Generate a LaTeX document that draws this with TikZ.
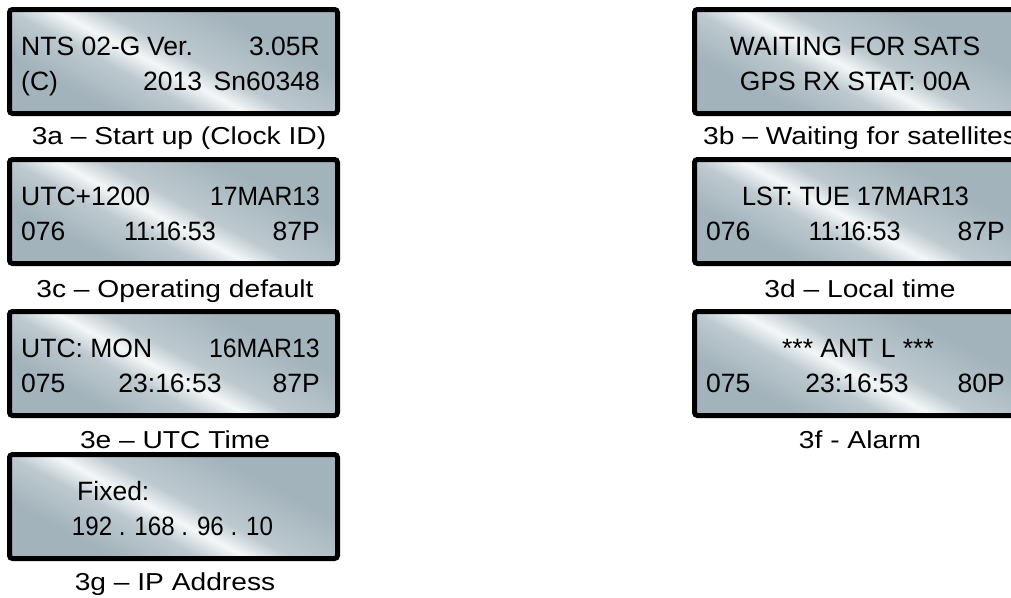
\documentclass[tikz,border=0pt]{standalone}
\usepackage{fontspec}
\setmainfont{Liberation Sans}
\newfontfamily\capfont[FakeStretch=1.15]{Liberation Sans}
\definecolor{lcdD}{HTML}{A3B3BB}
\definecolor{lcdM}{HTML}{BDC9CF}
\definecolor{lcdL}{HTML}{F4F7F8}
\pgfdeclareverticalshading{lcdshade}{100bp}{color(0bp)=(lcdD); color(30bp)=(lcdD); color(41bp)=(lcdM); color(47bp)=(lcdL); color(53bp)=(lcdM); color(68bp)=(lcdD); color(100bp)=(lcdD)}
\tikzset{
  lcdbox/.style={draw=black, line width=5pt, rounded corners=3pt, shade, shading=lcdshade, shading angle=-28,
    minimum width=328pt, minimum height=104pt, anchor=north west, inner sep=0pt, outer sep=0pt},
  lt/.style={font=\fontsize{26.5}{26.5}\selectfont, inner sep=0pt},
  ltn/.style={font=\fontsize{26.5}{26.5}\selectfont\addfontfeature{FakeStretch=#1}, inner sep=0pt},
  captxt/.style={font=\capfont\fontsize{24.5}{24.5}\selectfont, inner sep=0pt},
}
\newcommand\elevtime{1\kern-2pt 1\kern-1pt:\kern-1pt 1\kern-2pt 6:53}
\begin{document}
\begin{tikzpicture}[x=1pt,y=-1pt]
\useasboundingbox (0,0) rectangle (1011,597);
% boxes
\node[lcdbox] (A) at (9.5,9.5) {};
\node[lcdbox] (C) at (9.5,159.5) {};
\node[lcdbox] (E) at (9.5,311.5) {};
\node[lcdbox] (G) at (9.5,454.5) {};
\node[lcdbox] (B) at (694.5,9.5) {};
\node[lcdbox] (D) at (694.5,159.5) {};
\node[lcdbox] (F) at (694.5,311.5) {};
% 3a
\node[lt, anchor=base west] (a1l) at (21,55.5) {NTS 02-G};
\node[lt, anchor=base west] (a1m) at (147,55.5) {Ver.};
\node[lt, anchor=base east] (a1r) at (320,55.5) {3.05R};
\node[lt, anchor=base west] (a2l) at (21,90.5) {(C)};
\node[lt, anchor=base west] (a2m) at (143,90.5) {2013};
\node[lt, anchor=base east] (a2r) at (320,90.5) {Sn60348};
\node[captxt, anchor=base] (acap) at (179,144) {3a – Start up (Clock ID)};
% 3c
\node[lt, anchor=base west] (c1l) at (21,205.5) {UTC+1200};
\node[ltn=0.93, anchor=base east] (c1r) at (320,205.5) {17MAR13};
\node[lt, anchor=base west] (c2l) at (21,240.5) {076};
\node[ltn=0.95, anchor=base] (c2m) at (170,240.5) {\elevtime};
\node[lt, anchor=base east] (c2r) at (320,240.5) {87P};
\node[captxt, anchor=base] (ccap) at (175,297.5) {3c – Operating default};
% 3e
\node[lt, anchor=base west] (e1l) at (21,357) {UTC: MON};
\node[ltn=0.94, anchor=base east] (e1r) at (320,357) {16MAR13};
\node[lt, anchor=base west] (e2l) at (21,392) {075};
\node[lt, anchor=base] (e2m) at (170,392) {23:16:53};
\node[lt, anchor=base east] (e2r) at (320,392) {87P};
\node[captxt, anchor=base] (ecap) at (175,448.5) {3e – UTC Time};
% 3g
\node[lt, anchor=base west] (g1) at (77,500.5) {Fixed:};
\node[ltn=0.91, anchor=base] (g2) at (172.5,535) {192 . 168 . 96 . 10};
\node[captxt, anchor=base] (gcap) at (175,590) {3g – IP Address};
% 3b
\node[lt, anchor=base] (b1) at (855,55.5) {WAITING FOR SATS};
\node[lt, anchor=base] (b2) at (855,90.5) {GPS RX STAT: 00A};
\node[captxt, anchor=base west] (bcap) at (703,144) {3b – Waiting for satellites};
% 3d
\node[ltn=0.95, anchor=base] (d1) at (855.5,205.5) {LST: TUE 17MAR13};
\node[lt, anchor=base west] (d2l) at (706,240.5) {076};
\node[ltn=0.95, anchor=base] (d2m) at (854.5,240.5) {\elevtime};
\node[lt, anchor=base east] (d2r) at (1005,240.5) {87P};
\node[captxt, anchor=base] (dcap) at (860,297.5) {3d – Local time};
% 3f
\node[lt, anchor=base] (f1) at (858,357) {*** ANT L ***};
\node[lt, anchor=base west] (f2l) at (706,392) {075};
\node[lt, anchor=base] (f2m) at (857,392) {23:16:53};
\node[lt, anchor=base east] (f2r) at (1005,392) {80P};
\node[captxt, anchor=base] (fcap) at (860,448.5) {3f - Alarm};
\end{tikzpicture}
\end{document}
